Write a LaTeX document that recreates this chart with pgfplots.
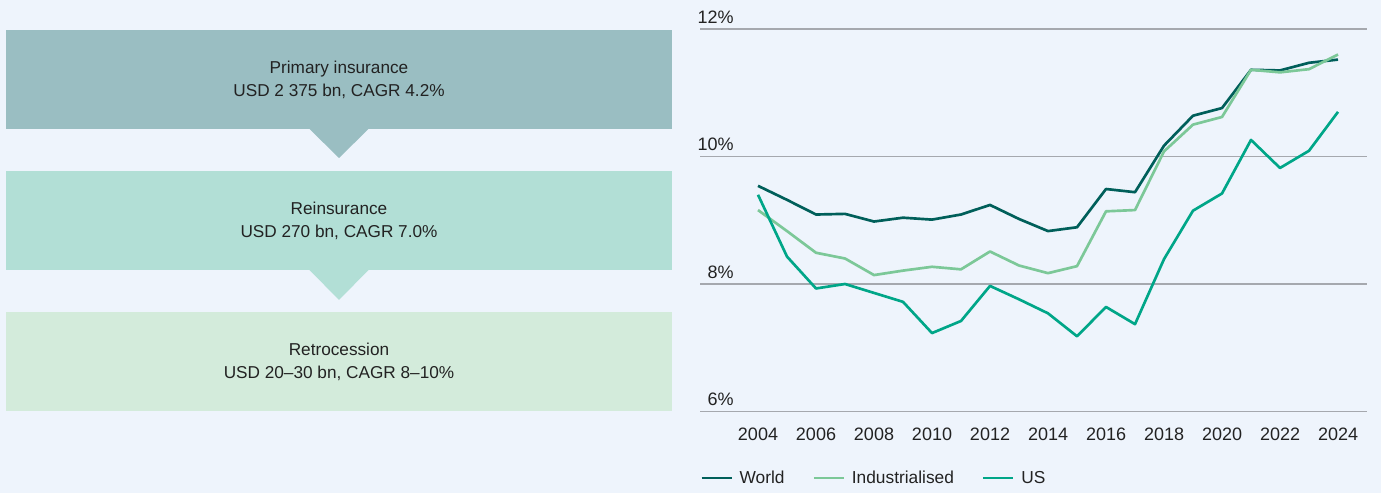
\documentclass[border=0pt]{standalone}
\usepackage{fontspec}
\setmainfont{Liberation Sans}
\usepackage{pgfplots}
\pgfplotsset{compat=1.18}
\definecolor{bg}{RGB}{238,244,252}
\definecolor{boxA}{RGB}{154,190,194}
\definecolor{boxB}{RGB}{178,223,214}
\definecolor{boxC}{RGB}{211,235,219}
\definecolor{cWorld}{RGB}{0,95,90}
\definecolor{cInd}{RGB}{124,200,152}
\definecolor{cUS}{RGB}{0,166,136}
\definecolor{gridc}{RGB}{165,168,174}
\definecolor{txt}{RGB}{34,34,34}
\begin{document}
\begin{tikzpicture}[x=0.75pt,y=0.75pt]
\fill[bg] (0,0) rectangle (1381,493);
% flow diagram
\fill[boxA] (6,364) rectangle (672,463);
\fill[boxA] (309,364.5) -- (369,364.5) -- (339,335) -- cycle;
\fill[boxB] (6,223) rectangle (672,322);
\fill[boxB] (309,223.5) -- (369,223.5) -- (339,193) -- cycle;
\fill[boxC] (6,82) rectangle (672,181);
\node[font=\fontsize{12.9}{16.8}\selectfont, align=center, text=txt] at (339,413) {Primary insurance\\USD 2 375 bn, CAGR 4.2\%};
\node[font=\fontsize{12.9}{16.8}\selectfont, align=center, text=txt] at (339,272) {Reinsurance\\USD 270 bn, CAGR 7.0\%};
\node[font=\fontsize{12.9}{16.8}\selectfont, align=center, text=txt] at (339,131) {Retrocession\\USD 20--30 bn, CAGR 8--10\%};
\begin{axis}[
  at={(525pt,61.125pt)}, anchor=south west,
  scale only axis, width=500.25pt, height=286.875pt,
  xmin=2002, xmax=2025, ymin=6, ymax=12,
  xtick={2004,2006,...,2024}, ytick={6,8,10,12},
  /pgf/number format/assume math mode=true,
  /pgf/number format/1000 sep={},
  yticklabel={\pgfmathprintnumber{\tick}\%},
  axis line style={draw=none},
  major tick length=0pt,
  xmajorgrids=false, ymajorgrids=true, grid style={draw=gridc, line width=1.1pt},
  tick label style={font=\fontsize{13.5}{15}\selectfont, text=txt},
  yticklabel style={anchor=south east, inner sep=0pt, xshift=25.5pt, yshift=4pt},
  xticklabel style={anchor=north, inner sep=0pt, yshift=-11.8pt},
  legend style={at={(0,-0.174)}, anchor=west, draw=none, fill=none, font=\fontsize{13}{15}\selectfont, text=txt, inner sep=0pt,
     /tikz/every odd column/.append style={column sep=3pt},
     /tikz/every even column/.append style={column sep=19pt}},
  legend columns=3,
  legend image code/.code={\draw[#1] (0pt,0pt) -- (22.5pt,0pt);},
  every axis plot/.append style={line width=2pt, line join=round},
]
\addplot[cWorld] coordinates {
(2004,9.54)(2005,9.32)(2006,9.09)(2007,9.10)(2008,8.98)(2009,9.04)(2010,9.01)
(2011,9.09)(2012,9.24)(2013,9.02)(2014,8.83)(2015,8.89)(2016,9.49)(2017,9.44)
(2018,10.17)(2019,10.64)(2020,10.76)(2021,11.36)(2022,11.35)(2023,11.47)(2024,11.52)};
\addlegendentry{World}
\addplot[cInd] coordinates {
(2004,9.16)(2005,8.83)(2006,8.49)(2007,8.40)(2008,8.14)(2009,8.21)(2010,8.27)
(2011,8.23)(2012,8.51)(2013,8.29)(2014,8.17)(2015,8.28)(2016,9.14)(2017,9.16)
(2018,10.08)(2019,10.50)(2020,10.62)(2021,11.36)(2022,11.32)(2023,11.37)(2024,11.60)};
\addlegendentry{Industrialised}
\addplot[cUS] coordinates {
(2004,9.40)(2005,8.43)(2006,7.93)(2007,8.00)(2008,7.86)(2009,7.72)(2010,7.23)
(2011,7.42)(2012,7.97)(2013,7.76)(2014,7.54)(2015,7.18)(2016,7.64)(2017,7.37)
(2018,8.39)(2019,9.15)(2020,9.42)(2021,10.26)(2022,9.82)(2023,10.09)(2024,10.70)};
\addlegendentry{US}
\end{axis}
\end{tikzpicture}
\end{document}
